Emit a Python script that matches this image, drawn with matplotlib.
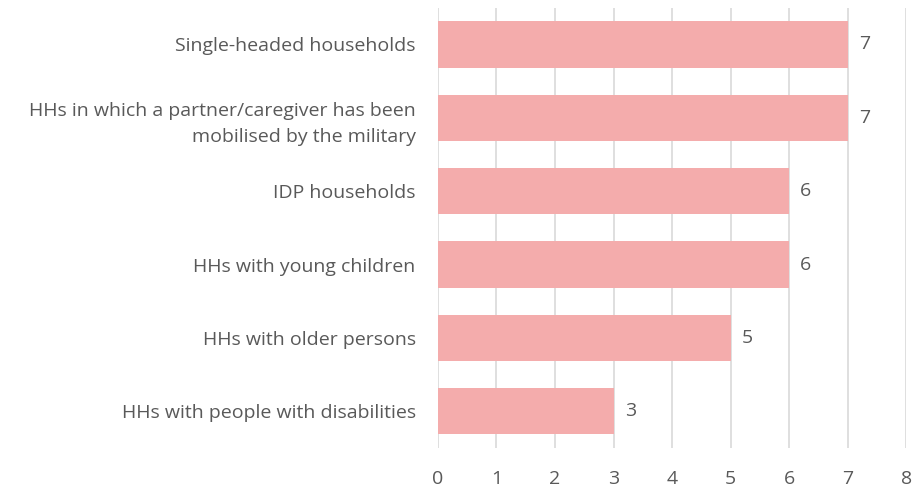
import matplotlib

matplotlib.use("Agg")
import matplotlib.pyplot as plt

categories = [
    "Single-headed households",
    "HHs in which a partner/caregiver has been\nmobilised by the military",
    "IDP households",
    "HHs with young children",
    "HHs with older persons",
    "HHs with people with disabilities",
]
values = [7, 7, 6, 6, 5, 3]

plt.rcParams["font.family"] = ["Open Sans", "DejaVu Sans"]
text_col = "#595959"
fs = 14

fig = plt.figure(figsize=(9.2, 4.87), dpi=100)
ax = fig.add_axes([0.476, 0.080, 0.509, 0.904])

ypos = list(range(len(categories)))
bars = ax.barh(ypos, values, height=0.63, color="#f4acac", zorder=3)
ax.bar_label(bars, labels=[str(v) for v in values], padding=8,
             fontsize=fs, color=text_col)

ax.set_yticks(ypos)
ax.set_yticklabels(categories, fontsize=fs, color=text_col, linespacing=1.55)
ax.set_ylim(len(categories) - 0.5, -0.5)
ax.set_xlim(0, 8)
ax.set_xticks(range(0, 9))
ax.tick_params(axis="x", length=0, pad=16, labelsize=fs, labelcolor=text_col)
ax.tick_params(axis="y", length=0, pad=16)
ax.grid(axis="x", color="#d9d9d9", lw=1.2, zorder=0)
for s in ax.spines.values():
    s.set_visible(False)

fig.savefig("out.png", dpi=100)
